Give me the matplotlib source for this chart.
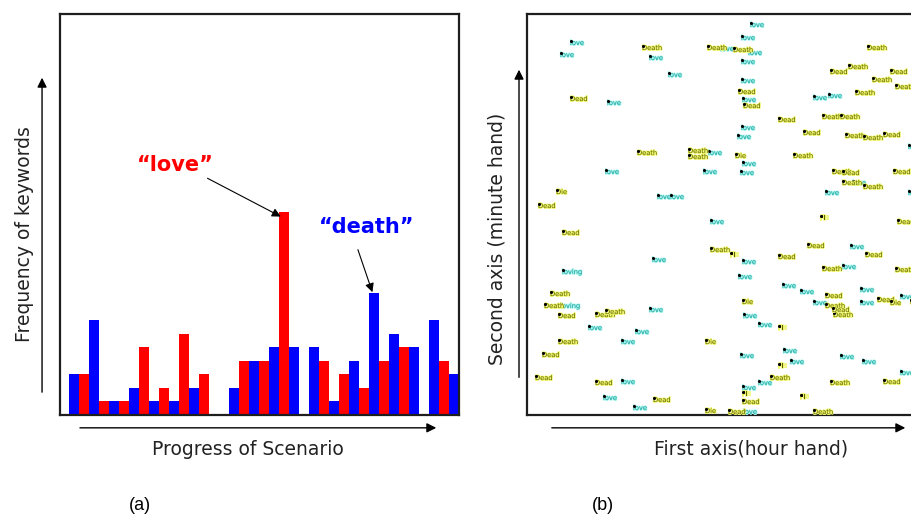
import numpy as np
import matplotlib.pyplot as plt
import matplotlib.patheffects as pe

# --- (a) keyword frequency along the scenario ---
blue_counts = [3, 7, 1, 2, 1, 1, 2, 0, 2, 4, 5, 5, 5, 1, 4, 9, 6, 5, 7, 3]   # "death"
red_counts = [3, 1, 1, 5, 2, 6, 3, 0, 4, 4, 15, 0, 4, 3, 2, 4, 5, 0, 4]      # "love"

# --- (b) words placed on the clock-like plane (hour, minute) ---
love_hour = [43, 33, 122, 141, 80, 181, 78, 176, 130, 143, 223, 214, 193, 221, 214,
             214, 215, 286, 301, 214, 210, 215, 213, 325, 298, 381, 381, 183, 125, 122,
             61, 108, 94, 94, 76, 106, 215, 211, 323, 315, 255, 273, 286, 333, 333,
             373, 216, 231, 213, 256, 263, 215, 231, 313, 335, 373, 216]
love_minute = [372, 360, 357, 340, 312, 262, 243, 243, 218, 218, 390, 377, 366, 362, 353,
               334, 315, 317, 319, 287, 278, 251, 242, 232, 222, 268, 222, 193, 155, 105,
               87, 83, 73, 33, 17, 7, 153, 138, 168, 148, 129, 123, 112, 125, 112,
               118, 99, 90, 59, 64, 53, 27, 32, 58, 53, 42, 3]
loving_hour = [35, 33]
loving_minute = [143, 109]
death_hour = [115, 110, 161, 161, 180, 206, 340, 321, 345, 368, 328, 295, 313, 318, 336,
              266, 305, 315, 336, 23, 17, 68, 78, 31, 183, 295, 368, 298, 306, 243,
              303, 286]
death_minute = [367, 262, 264, 258, 367, 365, 367, 348, 335, 328, 322, 298, 298, 279, 277,
                259, 243, 232, 228, 121, 109, 100, 103, 73, 165, 146, 145, 109, 100, 37,
                32, 3]
dead_hour = [43, 11, 303, 363, 211, 216, 251, 276, 356, 315, 366, 35, 31, 15, 8,
             68, 126, 370, 251, 280, 338, 298, 305, 350, 215, 356, 201]
dead_minute = [316, 209, 343, 343, 323, 309, 295, 282, 280, 242, 243, 182, 99, 60, 37,
               32, 15, 193, 158, 169, 160, 119, 105, 115, 13, 33, 3]
die_hour = [29, 208, 178, 178, 363, 383, 215]
die_minute = [223, 259, 73, 4, 112, 113, 113]
fill_hour = [293, 203, 251, 251, 215, 273]
fill_minute = [197, 160, 87, 49, 21, 18]

fig = plt.figure(figsize=(9.12, 5.18), dpi=100)
fig.patch.set_facecolor('white')

label_font = dict(family='DejaVu Sans', fontsize=13.5, color='#222222')
frame_color = '#1e1e1e'
arrow_kw = dict(arrowstyle='-|>', color='black', lw=1.0, mutation_scale=14)

# ---------------- panel (a) ----------------
ax_a = fig.add_axes([60 / 912, 1 - 415 / 518, 399 / 912, 401 / 518])
blue_pos = np.arange(len(blue_counts)) * 2
red_pos = np.arange(len(red_counts)) * 2 + 1
ax_a.bar(blue_pos, blue_counts, width=1.0, color='#0000ff', edgecolor='none')
ax_a.bar(red_pos, red_counts, width=1.0, color='#ff0000', edgecolor='none')
ax_a.set_xlim(-1.43, 38.47)
ax_a.set_ylim(0, 29.7)
ax_a.set_xticks([])
ax_a.set_yticks([])
for sp in ax_a.spines.values():
    sp.set_linewidth(1.6)
    sp.set_color(frame_color)

# callouts for the two keywords
love_peak = int(np.argmax(red_counts))
death_peak = int(np.argmax(blue_counts))
ax_a.text(10.07, 18.5, '\u201clove\u201d', color='#ff0000', fontsize=15,
          fontweight='bold', ha='center', va='center')
ax_a.annotate('', xy=(red_pos[love_peak] - 0.1, red_counts[love_peak] - 0.4),
              xytext=(13.07, 17.63),
              arrowprops=dict(arrowstyle='-|>', color='black', lw=0.8, mutation_scale=13))
ax_a.text(29.27, 13.93, '\u201cdeath\u201d', color='#0000ff', fontsize=15,
          fontweight='bold', ha='center', va='center')
ax_a.annotate('', xy=(blue_pos[death_peak] - 0.1, blue_counts[death_peak] - 0.1),
              xytext=(28.27, 12.44),
              arrowprops=dict(arrowstyle='-|>', color='black', lw=0.8, mutation_scale=13))

# hand-drawn style axis arrows outside the frame
ax_a.annotate('', xy=(-0.045, 0.848), xytext=(-0.045, 0.05), xycoords='axes fraction',
              textcoords='axes fraction', arrowprops=arrow_kw, annotation_clip=False)
ax_a.annotate('', xy=(0.95, -0.032), xytext=(0.043, -0.032), xycoords='axes fraction',
              textcoords='axes fraction', arrowprops=arrow_kw, annotation_clip=False)
ax_a.text(-0.088, 0.45, 'Frequency of keywords', rotation=90, ha='center', va='center',
          transform=ax_a.transAxes, **label_font)
ax_a.text(0.47, -0.085, 'Progress of Scenario', ha='center', va='center',
          transform=ax_a.transAxes, **label_font)

# ---------------- panel (b) ----------------
ax_b = fig.add_axes([527 / 912, 1 - 415 / 518, 408 / 912, 401 / 518])
ax_b.set_xlim(0, 408)
ax_b.set_ylim(0, 401)
ax_b.set_xticks([])
ax_b.set_yticks([])
for sp in ax_b.spines.values():
    sp.set_linewidth(1.6)
    sp.set_color(frame_color)

teal = dict(text='#0f9a90', halo='#a6f3ee')
olive = dict(text='#5e6200', halo='#eef56a')
word_groups = [
    ('love', love_hour, love_minute, teal),
    ('loving', loving_hour, loving_minute, teal),
    ('Death', death_hour, death_minute, olive),
    ('Dead', dead_hour, dead_minute, olive),
    ('Die', die_hour, die_minute, olive),
    ('Fill', fill_hour, fill_minute, olive),
]
for word, hx, my, col in word_groups:
    for x, y in zip(hx, my):
        ax_b.text(x, y, word, fontsize=4.8, color=col['text'], ha='left', va='center',
                  clip_on=True,
                  path_effects=[pe.withStroke(linewidth=1.1, foreground=col['halo'])])
    ax_b.scatter(np.array(hx) + 1, np.array(my) + 2.5, s=5, color='black',
                 linewidths=0, zorder=3, clip_on=True)

ax_b.annotate('', xy=(-0.0196, 0.868), xytext=(-0.0196, 0.087), xycoords='axes fraction',
              textcoords='axes fraction', arrowprops=arrow_kw, annotation_clip=False)
ax_b.annotate('', xy=(0.934, -0.032), xytext=(0.054, -0.032), xycoords='axes fraction',
              textcoords='axes fraction', arrowprops=arrow_kw, annotation_clip=False)
ax_b.text(-0.074, 0.44, 'Second axis (minute hand)', rotation=90, ha='center',
          va='center', transform=ax_b.transAxes, **label_font)
ax_b.text(0.548, -0.085, 'First axis(hour hand)', ha='center', va='center',
          transform=ax_b.transAxes, **label_font)

# panel captions
fig.text(140 / 912, 1 - 505 / 518, '(a)', fontsize=13, family='Liberation Sans',
         ha='center', va='center')
fig.text(603 / 912, 1 - 505 / 518, '(b)', fontsize=13, family='Liberation Sans',
         ha='center', va='center')

fig.savefig('out.png', dpi=100)
